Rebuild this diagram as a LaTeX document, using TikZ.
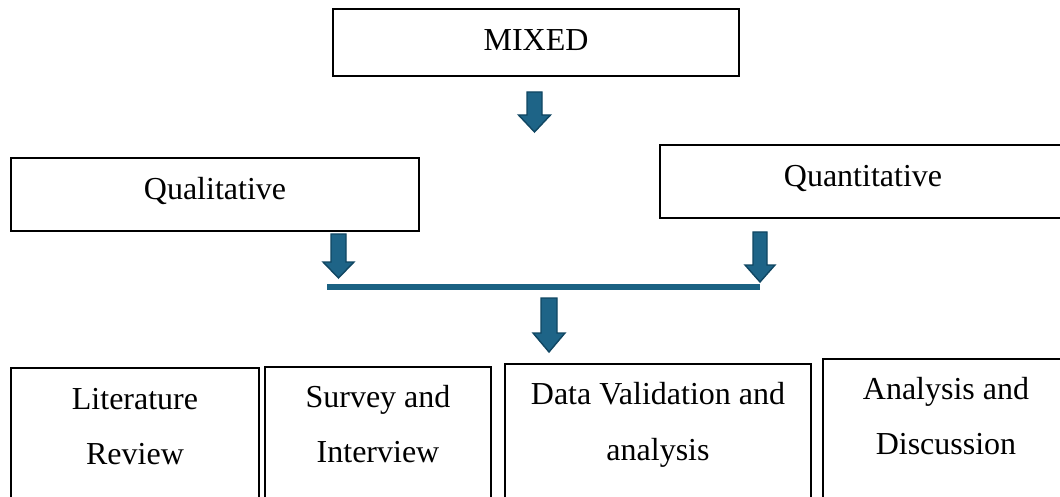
\documentclass[tikz,border=0pt]{standalone}
\usepackage{fontspec}
\setmainfont{Liberation Serif}
\definecolor{arrfill}{RGB}{30,100,135}
\definecolor{arrdraw}{RGB}{16,70,98}
\definecolor{barcol}{RGB}{27,98,131}
\newcommand{\blkarrow}[6]{% cx, halfshaft, halfhead, top, headstart, tip
  \draw[arrowshape] (#1-#2,#4) -- (#1+#2,#4) -- (#1+#2,#5) -- (#1+#3,#5) -- (#1,#6) -- (#1-#3,#5) -- (#1-#2,#5) -- cycle;}
\tikzset{
  box/.style={draw=black, line width=1.3pt, fill=white},
  txt/.style={font=\fontsize{32}{55}\selectfont, inner sep=0pt, align=center},
  arrowshape/.style={fill=arrfill, draw=arrdraw, line width=1.4pt, line join=miter},
}
\begin{document}
\begin{tikzpicture}[x=1pt,y=-1pt]
\useasboundingbox (0,0) rectangle (1060,497);
\clip (0,0) rectangle (1060,497);
% top box
\draw[box] (333,9) rectangle (739,76);
\node[txt, anchor=base] (mixed) at (536,51) {MIXED};
% arrow 1
\blkarrow{534.5}{7.5}{16}{92}{115}{132}
% second row boxes
\draw[box] (11,158) rectangle (419,231);
\node[txt, anchor=base] (qual) at (215,199.5) {Qualitative};
\draw[box] (660,145) rectangle (1075,218);
\node[txt, anchor=base] (quant) at (863,186.5) {Quantitative};
% arrows to bar
\blkarrow{338.5}{7.5}{15.5}{234}{262}{278}
\blkarrow{760}{7}{15}{232}{265}{282}
% bar
\coordinate (barL) at (327,287);
\coordinate (barR) at (760,287);
\draw[barcol, line width=6pt] (barL) -- (barR);
% arrow down
\blkarrow{549}{8}{16}{298}{333}{352}
% bottom boxes
\draw[box] (11,368) rectangle (259,520);
\draw[box] (265,367) rectangle (491,520);
\draw[box] (505,364) rectangle (811,520);
\draw[box] (823,359) rectangle (1075,520);
\node[txt, anchor=base] (lit1) at (135,409.5) {Literature};
\node[txt, anchor=base] (lit2) at (135,464.5) {Review};
\node[txt, anchor=base] (sur1) at (378,407.5) {Survey and};
\node[txt, anchor=base] (sur2) at (378,462.5) {Interview};
\node[txt, anchor=base] (dat1) at (658,404.5) {Data Validation and};
\node[txt, anchor=base] (dat2) at (658,460.5) {analysis};
\node[txt, anchor=base] (ana1) at (946,399.5) {Analysis and};
\node[txt, anchor=base] (ana2) at (946,454.5) {Discussion};
\end{tikzpicture}
\end{document}
